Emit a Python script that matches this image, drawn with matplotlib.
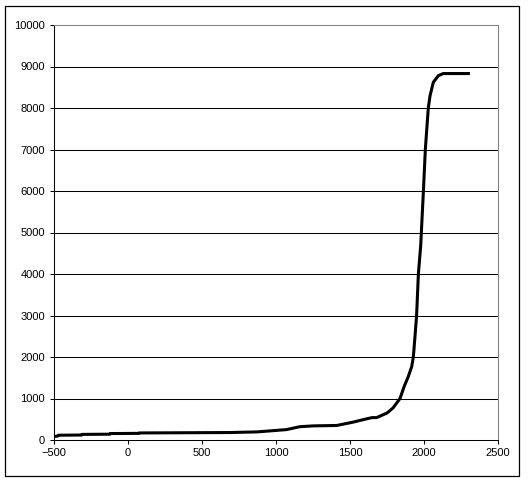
import matplotlib.pyplot as plt
from matplotlib.patches import Rectangle

# values
years = [-500, -475, -470, -313, -310, -122, -120, 74, 76, 690, 870, 980, 1070,
         1160, 1250, 1410, 1520, 1612, 1650, 1680, 1750, 1790, 1838, 1865, 1894,
         1917, 1928, 1939, 1950, 1962, 1978, 1982, 1996, 2009, 2029, 2041, 2063,
         2097, 2130, 2300]
values = [85, 95, 115, 120, 135, 140, 155, 160, 170, 180, 195, 225, 250,
          320, 340, 350, 430, 510, 540, 540, 650, 770, 1000, 1280, 1530,
          1770, 2000, 2490, 3000, 4000, 4700, 5000, 6000, 7000, 8000, 8300, 8620,
          8780, 8830, 8830]

x_ticks = [-500, 0, 500, 1000, 1500, 2000, 2500]
y_ticks = list(range(0, 10001, 1000))

plt.rcParams['font.family'] = ['Liberation Sans', 'DejaVu Sans']

fig = plt.figure(figsize=(5.28, 4.83), dpi=100)
ax = fig.add_axes([54 / 528, 43 / 483, 444 / 528, 415 / 483])

for v in y_ticks[1:-1]:
    ax.axhline(v, color='black', lw=0.75, zorder=1)

ax.plot(years, values, color='black', lw=2.2, solid_joinstyle='round', zorder=3)

ax.set_xlim(-500, 2500)
ax.set_ylim(0, 10000)
ax.set_xticks(x_ticks)
ax.set_yticks(y_ticks)
ax.tick_params(direction='out', length=3, width=0.75, labelsize=8, color='black')
ax.tick_params(axis='y', pad=3.5)
ax.tick_params(axis='x', pad=3)

for side in ['left', 'bottom']:
    ax.spines[side].set_color('black')
    ax.spines[side].set_linewidth(0.75)
for side in ['top', 'right']:
    ax.spines[side].set_color('#808080')
    ax.spines[side].set_linewidth(0.75)

# outer chart border
fig.patches.append(Rectangle((5 / 528, 1 - 476 / 483), 514 / 528, 470 / 483,
                             transform=fig.transFigure, fill=False,
                             edgecolor='black', lw=0.9))

fig.savefig('out.png', dpi=100)
